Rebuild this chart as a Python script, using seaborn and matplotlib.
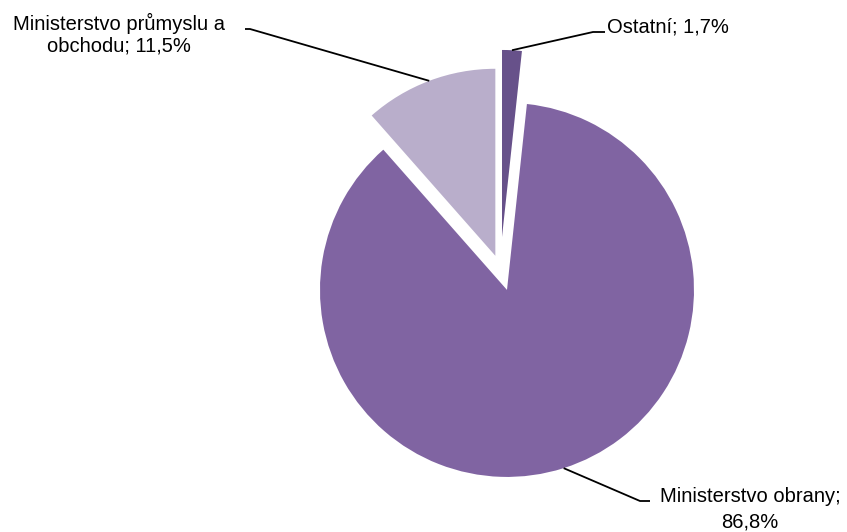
import numpy as np
import matplotlib
matplotlib.use("Agg")
import matplotlib.pyplot as plt
import seaborn as sns

# Data
labels = ["Ostatní", "Ministerstvo obrany", "Ministerstvo průmyslu a obchodu"]
shares = [1.7, 86.8, 11.5]
label_text = ["Ostatní; 1,7%", "Ministerstvo obrany;\n86,8%", "Ministerstvo průmyslu a\nobchodu; 11,5%"]
colors = ["#67518a", "#8064a2", "#b9aecb"]
explode = [0.171, 0.118, 0.075]

sns.set_style("white")
plt.rcParams["font.family"] = ["Liberation Sans", "DejaVu Sans"]

W, H = 847, 532
fig = plt.figure(figsize=(W / 100, H / 100), dpi=100)
ax = fig.add_axes([0, 0, 1, 1])

wedges, _ = ax.pie(shares, colors=colors, explode=explode, startangle=90,
                   counterclock=False, radius=1.0,
                   wedgeprops=dict(linewidth=0))

# pixel scale of the pie: 1 data unit = 187 px, pie centre at (500, 269) px
scale = 187.0
cx, cy = 500.3, 268.9
ax.set_xlim(-cx / scale, (W - cx) / scale)
ax.set_ylim(-(H - cy) / scale, cy / scale)
ax.set_aspect("equal")
ax.axis("off")


def px(x, y):
    return (x - cx) / scale, (cy - y) / scale


# label placement (text anchor, elbow end near text, elbow start)
label_pos = [
    dict(text=px(607, 27), ha="left", ls=1.2, seg=(px(605, 32), px(593, 32))),
    dict(text=px(750, 509), ha="center", ls=1.45, seg=(px(650, 501), px(640, 501))),
    dict(text=px(119, 34), ha="center", ls=1.2, seg=(px(245, 29), px(250, 29))),
]

for w, txt, pos in zip(wedges, label_text, label_pos):
    mid = np.deg2rad((w.theta1 + w.theta2) / 2)
    ax0 = w.center[0] + w.r * np.cos(mid)
    ay0 = w.center[1] + w.r * np.sin(mid)
    (x1, y1), (x2, y2) = pos["seg"]
    ax.plot([x1, x2, ax0], [y1, y2, ay0], color="black", lw=1.3,
            solid_capstyle="butt")
    ax.text(pos["text"][0], pos["text"][1], txt, ha=pos["ha"], va="center",
            fontsize=14.5, linespacing=pos["ls"], color="black")

fig.savefig("out.png", dpi=100)
